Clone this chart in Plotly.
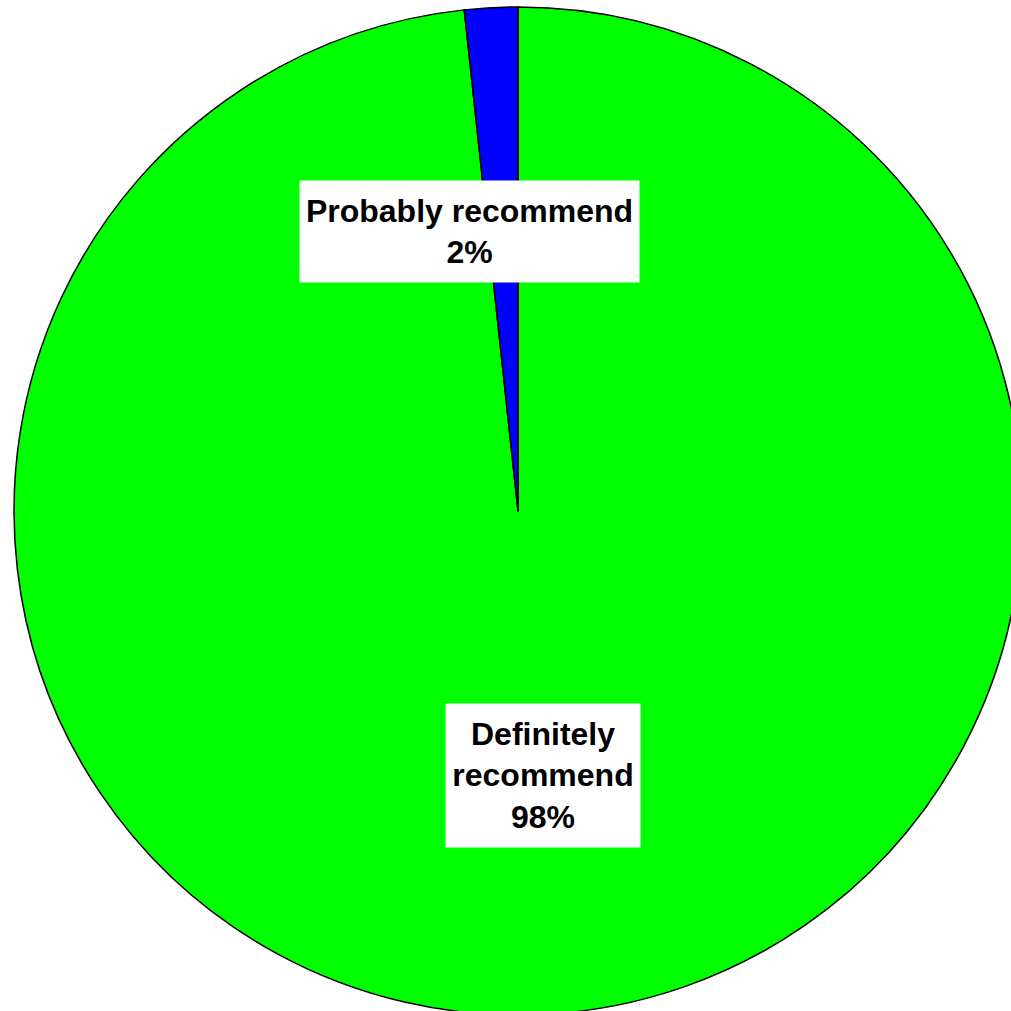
import plotly.graph_objects as go

labels = ["Definitely recommend", "Probably recommend"]
values = [98.3, 1.7]
colors = ["#00FF00", "#0000FF"]
label_text = ["Definitely<br>recommend", "Probably recommend"]

W = H = 1030  # figure slightly larger than the window; the pie runs off the right edge
fig = go.Figure()
fig.add_trace(go.Pie(
    labels=labels, values=values, sort=False, direction="counterclockwise", rotation=0,
    marker=dict(colors=colors, line=dict(color="black", width=1.5)),
    textinfo="none", textposition="inside", hoverinfo="label+percent", showlegend=False,
    domain=dict(x=[13 / W, 1023 / W], y=[1 - 1015 / H, 1 - 7 / H]),
))

total = sum(values)
pcts = [round(v / total * 100) for v in values]
ann_pos = [(543, 775.5, 194, 143), (469.5, 231.5, 339, 101)]
for txt, p, (cx, cy, bw, bh) in zip(label_text, pcts, ann_pos):
    fig.add_annotation(
        x=cx / W, y=1 - cy / H, xref="paper", yref="paper",
        text=f"<b>{txt}<br>{p}%</b>", showarrow=False,
        font=dict(family="Liberation Sans, Arial, sans-serif", size=32, color="black"),
        bgcolor="white", width=bw, height=bh, borderpad=0, align="center",
        xanchor="center", yanchor="middle",
    )

fig.update_layout(
    width=W, height=H, margin=dict(l=0, r=0, t=0, b=0),
    paper_bgcolor="white", plot_bgcolor="white",
)
fig.write_html(
    "out.html",
    config={"displayModeBar": False},
    post_script="document.body.style.margin='0';document.body.style.overflow='hidden';",
)
